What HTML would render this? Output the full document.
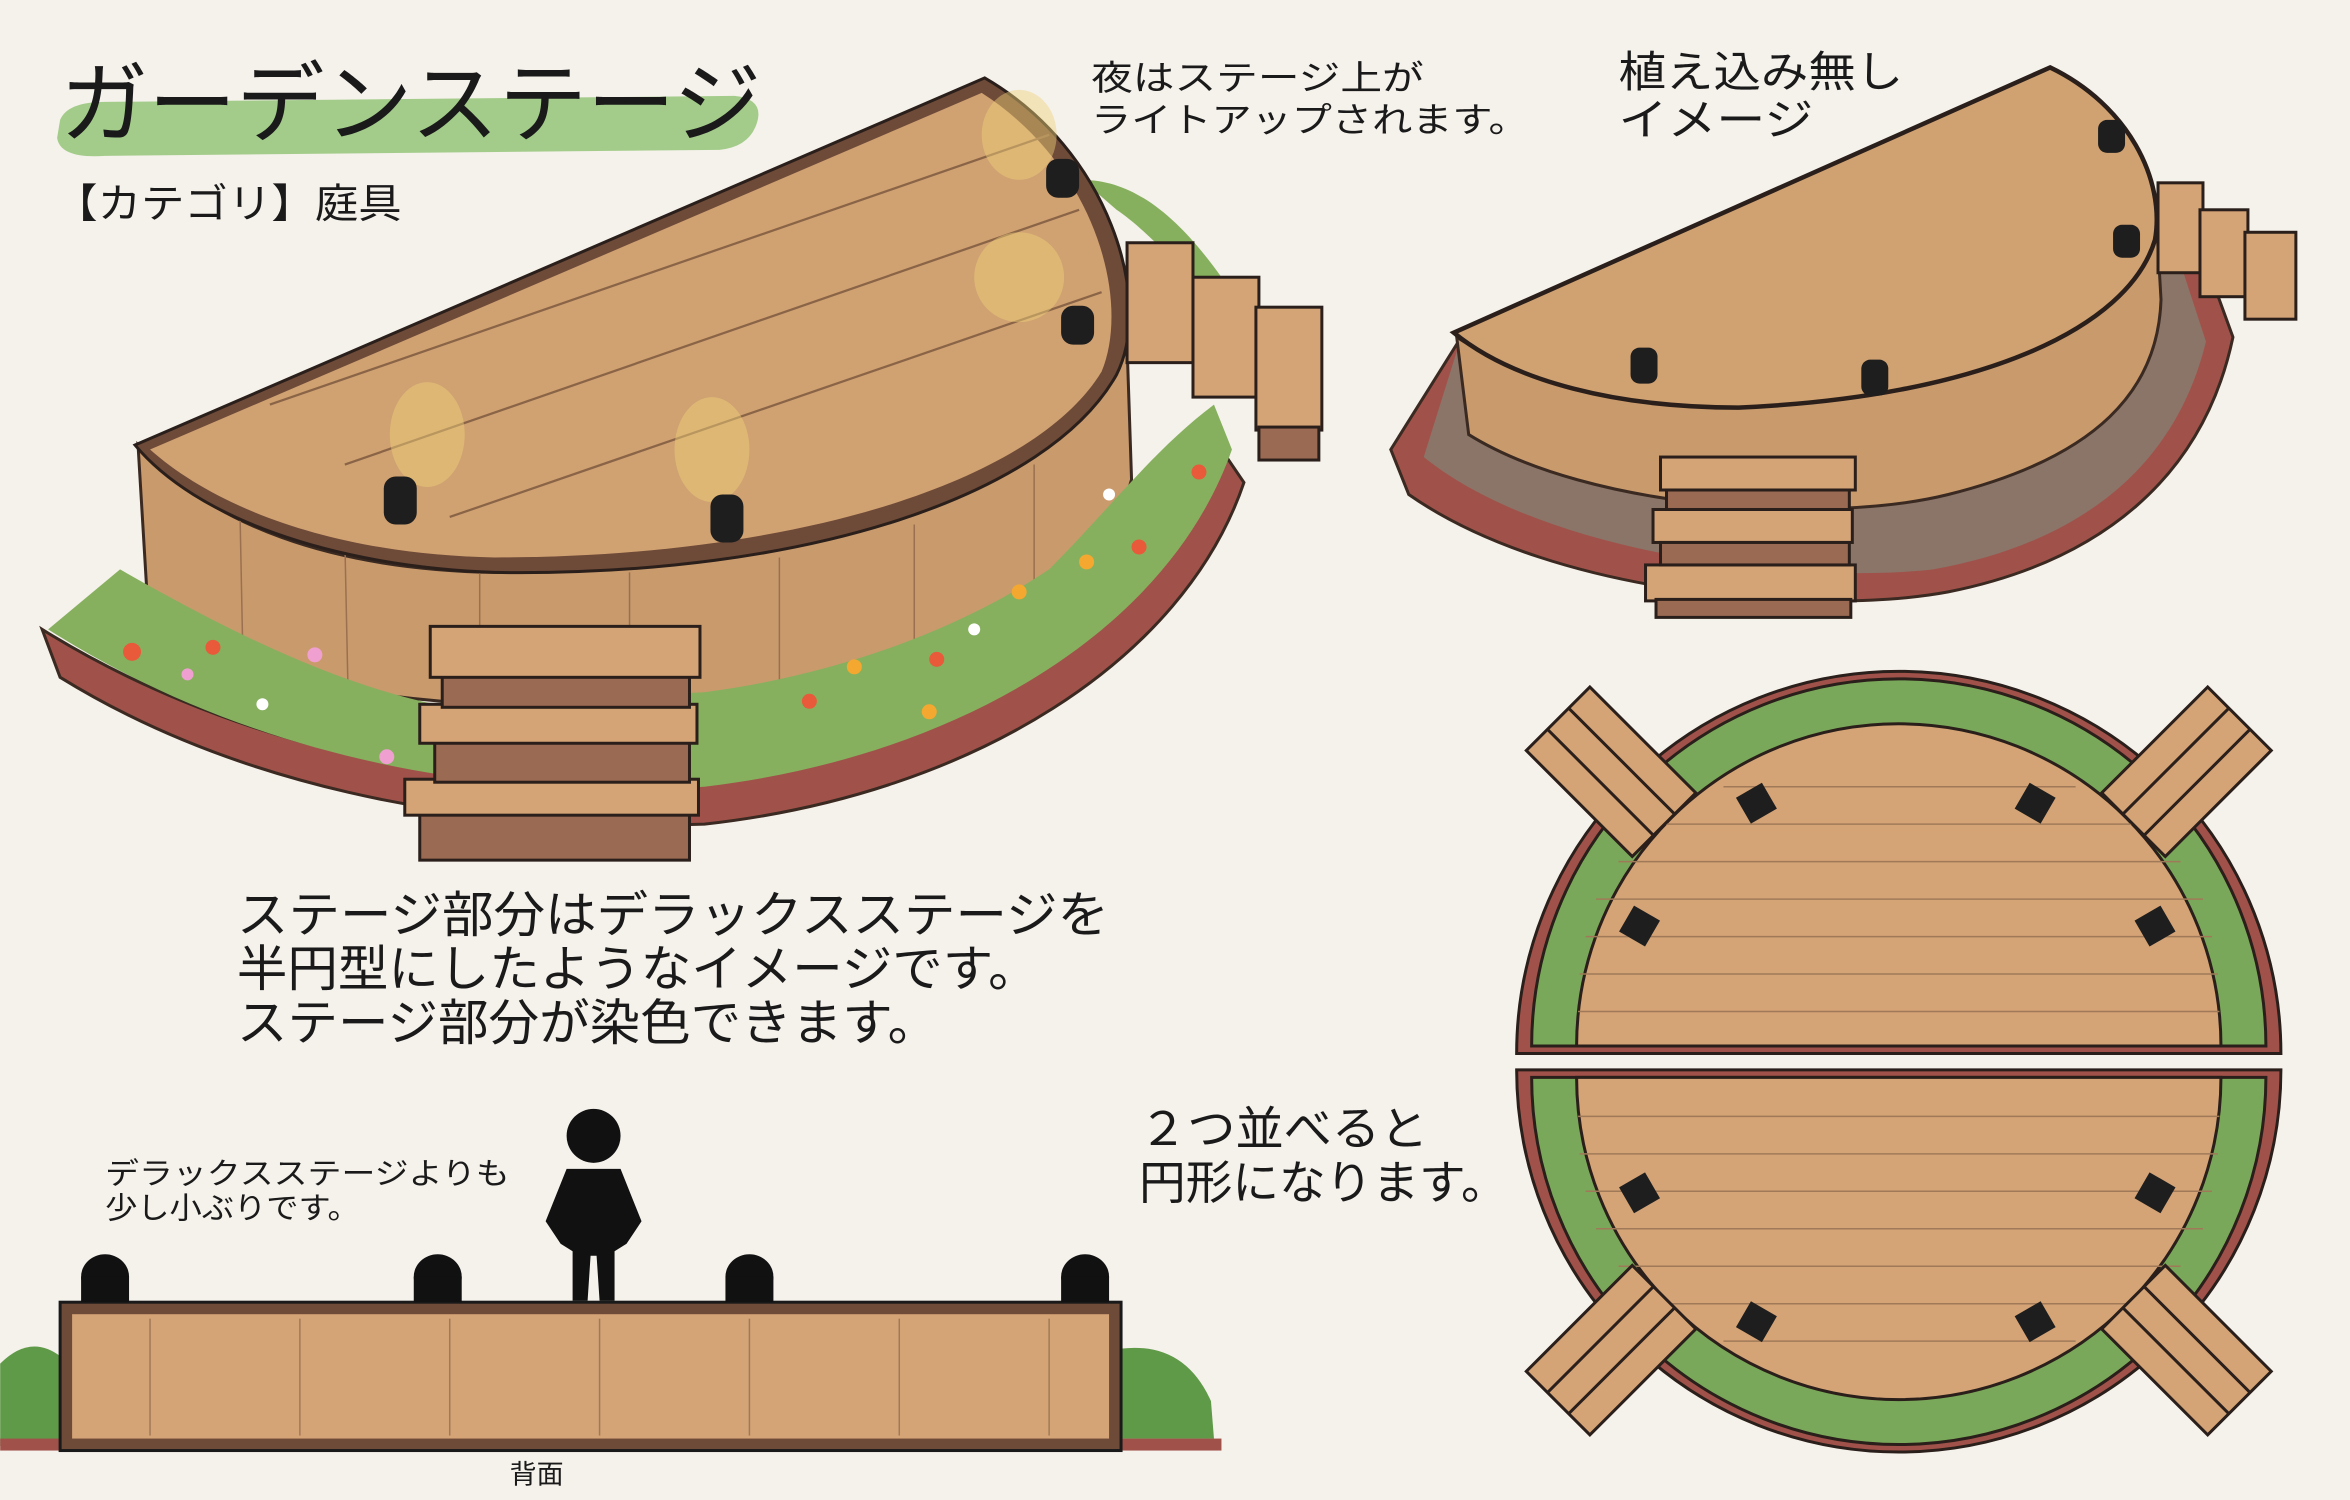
<!DOCTYPE html>
<html><head><meta charset="utf-8"><style>
html,body{margin:0;padding:0;background:#f5f1eb;}
svg{display:block}
text{font-family:"Liberation Sans","Noto Sans CJK JP",sans-serif;fill:#1a1a1a}
</style></head><body>
<svg width="2350" height="1500" viewBox="0 0 1568 1001" xmlns="http://www.w3.org/2000/svg">
<rect width="1568" height="1001" fill="#f5f1eb"/>
<!-- title -->
<path d="M40,80 Q45,68 70,68 L490,64 Q510,66 505,82 Q500,98 480,100 L70,104 Q40,106 38,92 Z" fill="#a3cc8a"/>
<text x="40" y="90" font-size="59" textLength="468" lengthAdjust="spacingAndGlyphs">ガーデンステージ</text>
<text x="36" y="145" font-size="27" textLength="232" lengthAdjust="spacingAndGlyphs">【カテゴリ】庭具</text>
<text x="728" y="60" font-size="23" textLength="222" lengthAdjust="spacingAndGlyphs">夜はステージ上が</text>
<text x="728" y="88" font-size="23" textLength="292" lengthAdjust="spacingAndGlyphs">ライトアップされます。</text>
<text x="1080" y="58" font-size="29" textLength="190" lengthAdjust="spacingAndGlyphs">植え込み無し</text>
<text x="1080" y="90" font-size="29" textLength="130" lengthAdjust="spacingAndGlyphs">イメージ</text>
<text x="158" y="622" font-size="33" textLength="582" lengthAdjust="spacingAndGlyphs">ステージ部分はデラックスステージを</text>
<text x="158" y="658" font-size="33" textLength="535" lengthAdjust="spacingAndGlyphs">半円型にしたようなイメージです。</text>
<text x="158" y="694" font-size="33" textLength="468" lengthAdjust="spacingAndGlyphs">ステージ部分が染色できます。</text>
<text x="760" y="764" font-size="31" textLength="193" lengthAdjust="spacingAndGlyphs">２つ並べると</text>
<text x="760" y="800" font-size="31" textLength="246" lengthAdjust="spacingAndGlyphs">円形になります。</text>
<text x="70" y="790" font-size="20" textLength="270" lengthAdjust="spacingAndGlyphs">デラックスステージよりも</text>
<text x="70" y="813" font-size="20" textLength="170" lengthAdjust="spacingAndGlyphs">少し小ぶりです。</text>
<text x="340" y="990" font-size="18">背面</text>

<!-- main stage: brick bed -->
<path d="M28,420 L40,452 C150,520 300,556 470,550 C650,530 790,440 830,322 L815,300 C780,410 640,500 470,520 C300,535 140,490 28,420 Z" fill="#a0524a" stroke="#3a2a22" stroke-width="2"/>
<!-- wall -->
<path d="M92,297 L100,430 C220,470 380,480 470,465 C620,440 740,380 755,320 L752,230 C720,320 560,380 330,382 C220,380 140,350 92,297 Z" fill="#c99a6c" stroke="#3a2a22" stroke-width="2"/>
<g stroke="#9a7050" stroke-width="1"><line x1="160" y1="340" x2="162" y2="440"/><line x1="230" y1="360" x2="232" y2="455"/><line x1="320" y1="380" x2="320" y2="465"/><line x1="420" y1="382" x2="420" y2="470"/><line x1="520" y1="372" x2="520" y2="460"/><line x1="610" y1="350" x2="610" y2="440"/><line x1="690" y1="310" x2="690" y2="400"/></g>
<!-- flower bed -->
<path d="M32,420 C150,495 300,535 470,525 C640,505 780,420 822,300 L810,270 C770,300 740,340 700,380 C640,420 560,450 470,462 L290,470 C220,455 150,420 80,380 Z" fill="#86b05e"/>
<g fill="#e85a3a"><circle cx="88" cy="435" r="6"/><circle cx="142" cy="432" r="5"/><circle cx="540" cy="468" r="5"/><circle cx="625" cy="440" r="5"/><circle cx="760" cy="365" r="5"/><circle cx="800" cy="315" r="5"/><circle cx="765" cy="143" r="6"/></g>
<g fill="#f5a830"><circle cx="570" cy="445" r="5"/><circle cx="680" cy="395" r="5"/><circle cx="725" cy="375" r="5"/><circle cx="620" cy="475" r="5"/></g>
<g fill="#f0a0d0"><circle cx="210" cy="437" r="5"/><circle cx="125" cy="450" r="4"/><circle cx="258" cy="505" r="5"/></g>
<g fill="#ffffff"><circle cx="175" cy="470" r="4"/><circle cx="740" cy="330" r="4"/><circle cx="650" cy="420" r="4"/></g>
<path d="M722,120 C760,120 790,150 815,185 L800,192 C780,170 760,150 745,140 Z" fill="#86b05e"/>
<!-- top -->
<path d="M90,297 L657,52 C740,100 770,200 745,250 C700,330 540,385 330,382 C220,378 130,345 90,297 Z" fill="#6e4a38" stroke="#2a1f1a" stroke-width="2"/>
<path d="M100,300 L655,62 C730,110 755,200 735,248 C690,322 530,372 330,372 C225,370 145,340 100,300 Z" fill="#d0a171"/>
<g stroke="#8a6447" stroke-width="1.5">
<line x1="180" y1="270" x2="700" y2="90"/><line x1="230" y1="310" x2="720" y2="140"/><line x1="300" y1="345" x2="735" y2="195"/>
</g>
<g fill="#f0d27a" opacity="0.45"><ellipse cx="285" cy="290" rx="25" ry="35"/><ellipse cx="475" cy="300" rx="25" ry="35"/><ellipse cx="680" cy="90" rx="25" ry="30"/><ellipse cx="680" cy="185" rx="30" ry="30"/></g>
<g fill="#1e1e1e"><rect x="256" y="318" width="22" height="32" rx="8"/><rect x="474" y="330" width="22" height="32" rx="8"/><rect x="698" y="106" width="22" height="26" rx="8"/><rect x="708" y="204" width="22" height="26" rx="8"/></g>
<!-- front steps -->
<g stroke="#2a1f1a" stroke-width="2">
<rect x="280" y="542" width="180" height="32" fill="#9b6a52"/><rect x="270" y="520" width="196" height="24" fill="#d4a376"/>
<rect x="290" y="494" width="170" height="28" fill="#9b6a52"/><rect x="280" y="470" width="185" height="26" fill="#d4a376"/>
<rect x="295" y="450" width="165" height="22" fill="#9b6a52"/><rect x="287" y="418" width="180" height="34" fill="#d4a376"/>
</g>
<!-- side steps -->
<g stroke="#2a1f1a" stroke-width="2">
<rect x="752" y="162" width="44" height="80" fill="#d4a376"/><rect x="796" y="185" width="44" height="80" fill="#d4a376"/><rect x="838" y="205" width="44" height="82" fill="#d4a376"/>
<rect x="840" y="285" width="40" height="22" fill="#9b6a52"/>
</g>

<!-- top-right stage -->
<path d="M928,300 L940,330 C1040,400 1220,410 1300,395 C1400,375 1470,320 1490,225 L1470,170 L975,225 Z" fill="#a0524a" stroke="#3a2a22" stroke-width="2"/>
<path d="M950,305 C1030,370 1200,390 1290,380 C1390,362 1452,310 1472,228 L1440,130 L975,225 Z" fill="#8b7568"/>
<path d="M972,225 L980,290 C1060,340 1220,350 1300,330 C1400,305 1440,260 1442,200 L1438,130 C1400,220 1280,270 1160,270 C1080,268 1010,250 972,225 Z" fill="#c99a6c" stroke="#3a2a22" stroke-width="2"/>
<path d="M970,222 L1368,45 C1420,70 1445,120 1438,160 C1420,220 1320,265 1160,272 C1080,272 1010,255 970,222 Z" fill="#d0a171" stroke="#2a1f1a" stroke-width="3"/>
<g fill="#1e1e1e"><rect x="1088" y="232" width="18" height="24" rx="6"/><rect x="1242" y="240" width="18" height="24" rx="6"/><rect x="1400" y="80" width="18" height="22" rx="6"/><rect x="1410" y="150" width="18" height="22" rx="6"/></g>
<g stroke="#2a1f1a" stroke-width="2">
<rect x="1098" y="377" width="140" height="24" fill="#d4a376"/><rect x="1105" y="400" width="130" height="12" fill="#9b6a52"/>
<rect x="1103" y="340" width="133" height="22" fill="#d4a376"/><rect x="1108" y="362" width="126" height="15" fill="#9b6a52"/>
<rect x="1108" y="305" width="130" height="22" fill="#d4a376"/><rect x="1112" y="327" width="122" height="13" fill="#9b6a52"/>
<rect x="1440" y="122" width="30" height="60" fill="#d4a376"/><rect x="1468" y="140" width="32" height="58" fill="#d4a376"/><rect x="1498" y="155" width="34" height="58" fill="#d4a376"/>
</g>

<!-- circle view -->
<g stroke="#2a1f1a" stroke-width="2">
<path d="M1012,703 A255,255 0 0 1 1522,703 Z" fill="#a0524a"/>
<path d="M1022,698 A245,245 0 0 1 1512,698 Z" fill="#7aa85a"/>
<path d="M1052,698 A215,215 0 0 1 1482,698 Z" fill="#d4a376"/>
<path d="M1012,714 A255,255 0 0 0 1522,714 Z" fill="#a0524a"/>
<path d="M1022,719 A245,245 0 0 0 1512,719 Z" fill="#7aa85a"/>
<path d="M1052,719 A215,215 0 0 0 1482,719 Z" fill="#d4a376"/>
</g>
<g stroke="#a07a58" stroke-width="1">
<line x1="1065" y1="600" x2="1470" y2="600"/><line x1="1058" y1="625" x2="1476" y2="625"/><line x1="1054" y1="650" x2="1480" y2="650"/><line x1="1053" y1="675" x2="1481" y2="675"/><line x1="1080" y1="575" x2="1455" y2="575"/><line x1="1110" y1="550" x2="1425" y2="550"/><line x1="1150" y1="525" x2="1385" y2="525"/>
<line x1="1053" y1="745" x2="1481" y2="745"/><line x1="1054" y1="770" x2="1480" y2="770"/><line x1="1058" y1="795" x2="1476" y2="795"/><line x1="1065" y1="820" x2="1470" y2="820"/><line x1="1080" y1="845" x2="1455" y2="845"/><line x1="1110" y1="870" x2="1425" y2="870"/><line x1="1150" y1="895" x2="1385" y2="895"/>
</g>
<g fill="#1e1e1e">
<rect x="1162" y="526" width="20" height="20" transform="rotate(-30 1172 536)"/><rect x="1348" y="526" width="20" height="20" transform="rotate(30 1358 536)"/>
<rect x="1084" y="608" width="20" height="20" transform="rotate(-60 1094 618)"/><rect x="1428" y="608" width="20" height="20" transform="rotate(60 1438 618)"/>
<rect x="1084" y="786" width="20" height="20" transform="rotate(60 1094 796)"/><rect x="1428" y="786" width="20" height="20" transform="rotate(-60 1438 796)"/>
<rect x="1162" y="872" width="20" height="20" transform="rotate(30 1172 882)"/><rect x="1348" y="872" width="20" height="20" transform="rotate(-30 1358 882)"/>
</g>
<g fill="#d4a376" stroke="#2a1f1a" stroke-width="2">
<g transform="rotate(45 1075 515)"><rect x="1025" y="485" width="100" height="60"/><line x1="1025" y1="505" x2="1125" y2="505"/><line x1="1025" y1="525" x2="1125" y2="525"/></g>
<g transform="rotate(-45 1459 515)"><rect x="1409" y="485" width="100" height="60"/><line x1="1409" y1="505" x2="1509" y2="505"/><line x1="1409" y1="525" x2="1509" y2="525"/></g>
<g transform="rotate(-45 1075 901)"><rect x="1025" y="871" width="100" height="60"/><line x1="1025" y1="891" x2="1125" y2="891"/><line x1="1025" y1="911" x2="1125" y2="911"/></g>
<g transform="rotate(45 1459 901)"><rect x="1409" y="871" width="100" height="60"/><line x1="1409" y1="891" x2="1509" y2="891"/><line x1="1409" y1="911" x2="1509" y2="911"/></g>
</g>

<!-- side view -->
<path d="M0,910 Q20,890 40,905 L40,965 L0,965 Z" fill="#5f9a48"/>
<path d="M748,900 Q790,895 808,935 L810,960 L748,960 Z" fill="#5f9a48"/>
<rect x="0" y="960" width="815" height="8" fill="#a0524a"/>
<rect x="40" y="869" width="708" height="99" fill="#6e4a38" stroke="#1a1a1a" stroke-width="2"/>
<rect x="48" y="877" width="692" height="83" fill="#d4a376"/>
<g stroke="#a07a58" stroke-width="1"><line x1="100" y1="880" x2="100" y2="958"/><line x1="200" y1="880" x2="200" y2="958"/><line x1="300" y1="880" x2="300" y2="958"/><line x1="400" y1="880" x2="400" y2="958"/><line x1="500" y1="880" x2="500" y2="958"/><line x1="600" y1="880" x2="600" y2="958"/><line x1="700" y1="880" x2="700" y2="958"/></g>
<g fill="#111"><ellipse cx="70" cy="852" rx="16" ry="15"/><rect x="54" y="852" width="32" height="17"/>
<ellipse cx="292" cy="852" rx="16" ry="15"/><rect x="276" y="852" width="32" height="17"/>
<ellipse cx="500" cy="852" rx="16" ry="15"/><rect x="484" y="852" width="32" height="17"/>
<ellipse cx="724" cy="852" rx="16" ry="15"/><rect x="708" y="852" width="32" height="17"/>
<circle cx="396" cy="758" r="18"/><path d="M378,780 L414,780 L428,815 L418,830 L410,835 L410,868 L400,868 L398,838 L394,838 L392,868 L382,868 L382,835 L374,830 L364,815 Z"/></g>
</svg>
</body></html>
